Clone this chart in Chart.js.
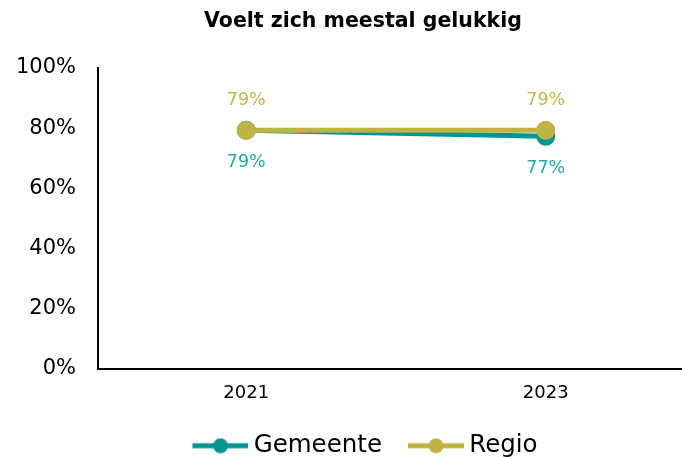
<!DOCTYPE html>
<html>
<head>
<meta charset="utf-8">
<script src="https://cdn.jsdelivr.net/npm/chart.js@4"></script>
<style>
  html, body { margin: 0; padding: 0; background: #fff; }
  #wrap { width: 682px; height: 457px; }
</style>
</head>
<body>
<div id="wrap"><canvas id="myChart" width="682" height="457"></canvas></div>
<script>
// Data
let title = 'Voelt zich meestal gelukkig';
let years = [2021, 2023];
let yearLabels = ['2021', '2023'];
let seriesNames = ['Gemeente', 'Regio'];
let gemeente = [79.3, 77.3];
let regio = [79.3, 79.3];

let tealLine = '#009590';
let tealText = '#25aaa5';
let oliveLine = '#bdb443';
let oliveText = '#c3b94b';
let fontName = '"DejaVu Sans"';

// legend marker: line with a dot, shifted right inside a wider transparent image
function legendMarker(color) {
	let c = document.createElement('canvas');
	c.width = 79; c.height = 16;
	let ctx = c.getContext('2d');
	ctx.strokeStyle = color;
	ctx.lineWidth = 5;
	ctx.beginPath();
	ctx.moveTo(23, 8);
	ctx.lineTo(79, 8);
	ctx.stroke();
	ctx.fillStyle = color;
	ctx.beginPath();
	ctx.arc(51, 8, 7.5, 0, Math.PI * 2);
	ctx.fill();
	return c;
}

// title drawn centered over the plot, legend nudged to the right like the original
const titlePlugin = {
	id: 'titlePlugin',
	afterLayout(chart) {
		chart.legend.left += 16;
		chart.legend.right += 16;
	},
	afterDraw(chart) {
		let ctx = chart.ctx;
		ctx.save();
		ctx.font = 'bold 20.5px ' + fontName;
		ctx.fillStyle = '#000';
		ctx.textAlign = 'center';
		ctx.textBaseline = 'middle';
		ctx.fillText(title, 363, 22);
		ctx.restore();
	}
};

// value labels above/below the points
const valueLabels = {
	id: 'valueLabels',
	afterDatasetsDraw(chart) {
		let ctx = chart.ctx;
		ctx.save();
		ctx.font = '17.5px ' + fontName;
		ctx.textAlign = 'center';
		ctx.textBaseline = 'middle';
		chart.data.datasets.forEach((ds, i) => {
			let meta = chart.getDatasetMeta(i);
			meta.data.forEach((pt, j) => {
				let v = ds.data[j].y;
				ctx.fillStyle = ds.labelColor;
				ctx.fillText(Math.round(v) + '%', pt.x, pt.y + ds.labelOffset);
			});
		});
		ctx.restore();
	}
};

const config = {
	type: 'line',
	data: {
		datasets: [
			{
				label: seriesNames[0],
				data: years.map((y, i) => ({x: y, y: gemeente[i]})),
				borderColor: tealLine,
				backgroundColor: tealLine,
				borderWidth: 5,
				pointRadius: 7,
				pointHoverRadius: 7,
				labelColor: tealText,
				labelOffset: 32,
				order: 1
			},
			{
				label: seriesNames[1],
				data: years.map((y, i) => ({x: y, y: regio[i]})),
				borderColor: oliveLine,
				backgroundColor: oliveLine,
				borderWidth: 5,
				pointRadius: 7,
				pointHoverRadius: 7,
				labelColor: oliveText,
				labelOffset: -30,
				order: 0
			}
		]
	},
	options: {
		responsive: false,
		animation: false,
		layout: { autoPadding: false, padding: { top: 68, right: 0, left: 0, bottom: -11 } },
		plugins: {
			title: { display: false },
			tooltip: { enabled: false },
			legend: {
				position: 'bottom',
				labels: {
					usePointStyle: true,
					pointStyleWidth: 65,
					boxHeight: 16,
					padding: 10,
					color: '#000',
					font: { family: fontName, size: 24.5 },
					generateLabels(chart) {
						return chart.data.datasets.map((ds, i) => ({
							text: ds.label,
							pointStyle: legendMarker(ds.borderColor),
							fillStyle: ds.borderColor,
							strokeStyle: ds.borderColor,
							lineWidth: 0,
							fontColor: '#000',
							datasetIndex: i
						}));
					}
				}
			}
		},
		scales: {
			x: {
				type: 'linear',
				min: 2020.01,
				max: 2023.91,
				grid: { display: false, drawTicks: false },
				border: { display: true, color: '#000', width: 2 },
				afterBuildTicks(axis) {
					axis.ticks = years.map(y => ({value: y}));
				},
				afterFit(axis) {
					axis.paddingLeft = 0;
					axis.paddingRight = 0;
					axis.height = 55;
				},
				ticks: {
					padding: 14,
					color: '#000',
					font: { family: fontName, size: 18 },
					callback: (v) => yearLabels[years.indexOf(v)]
				}
			},
			y: {
				min: 0,
				max: 100,
				grid: { display: false, drawTicks: false },
				border: { display: true, color: '#000', width: 2 },
				afterFit(axis) { axis.width = 98; },
				ticks: {
					stepSize: 20,
					padding: 22,
					color: '#000',
					font: { family: fontName, size: 21 },
					callback: (v) => v + '%'
				}
			}
		}
	},
	plugins: [valueLabels, titlePlugin]
};

let myChart = new Chart(document.getElementById('myChart'), config);
</script>
</body>
</html>
